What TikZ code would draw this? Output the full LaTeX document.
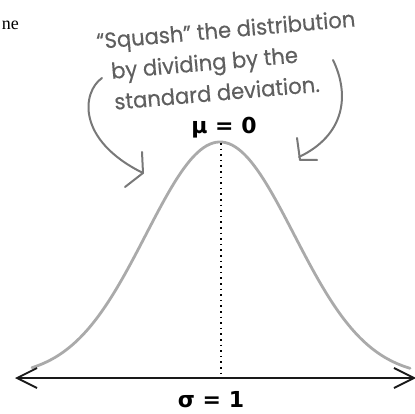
\documentclass[tikz,border=0pt]{standalone}
\usepackage{fontspec}
\setmainfont{Liberation Serif}
\newfontfamily\handfont[FakeStretch=0.96,FakeBold=0.4]{Poppins}
\newfontfamily\boldsans{DejaVu Sans}
\usetikzlibrary{arrows.meta}
\definecolor{handgray}{RGB}{95,95,95}
\definecolor{arrowgray}{RGB}{120,120,120}
\definecolor{curvegray}{RGB}{170,170,170}
\tikzset{
  hand/.style={font=\handfont\fontsize{22}{31}\selectfont, text=handgray, inner sep=0pt, align=left},
  biglabel/.style={font=\boldsans\bfseries\fontsize{22}{24}\selectfont, inner sep=0pt, anchor=base},
  callout/.style={draw=arrowgray, line width=2pt, line cap=round, line join=round},
  bell/.style={draw=curvegray, line width=2.8pt, line cap=round},
  axisline/.style={draw=black!90, line width=1.8pt, {Straight Barb[length=20pt,width=20pt,line width=1.8pt]}-{Straight Barb[length=20pt,width=20pt,line width=1.8pt]}},
  meanline/.style={draw=black, line width=1.6pt, dash pattern=on 1.6pt off 4pt}
}
\begin{document}
\begin{tikzpicture}[x=1pt,y=-1pt]
\useasboundingbox (0,0) rectangle (415,414);
% cut-off word at top left
\node[font=\fontsize{18}{20}\selectfont, inner sep=0pt, anchor=base east] (ne) at (19,30) {ne};
% handwritten note (anchor = baseline of its last line)
\node[hand, rotate=5, anchor=base west] (note) at (102.4,110.8) {“Squash” the distribution\\\hspace*{12pt}by dividing by the\\\hspace*{12.5pt}standard deviation.};
% bell curve
\draw[bell] plot[domain=32:410, samples=120, smooth] (\x, {377-235*exp(-((\x-220)/74)^2/2)});
\coordinate (peak) at (221,143);
\coordinate (foot) at (221,373);
\draw[meanline] (peak) -- (foot);
% axis
\coordinate (axl) at (15,378);
\coordinate (axr) at (416,378);
\draw[axisline] (axl) -- (axr);
% labels
\node[biglabel] (mu) at (224,134) {μ = 0};
\node[biglabel] (sigma) at (211,407) {σ = 1};
% callout arrows
\coordinate (la0) at (102,78);
\coordinate (lat) at (143,173);
\draw[callout] (la0) .. controls (82,92) and (76,140) .. (lat);
\draw[callout] (142,152) -- (lat) -- (125,187);
\coordinate (ra0) at (333,60);
\coordinate (rat) at (299,157);
\draw[callout] (ra0) .. controls (350,95) and (345,135) .. (rat);
\draw[callout] (297,138) -- (300,160) -- (317,160);
\end{tikzpicture}
\end{document}
